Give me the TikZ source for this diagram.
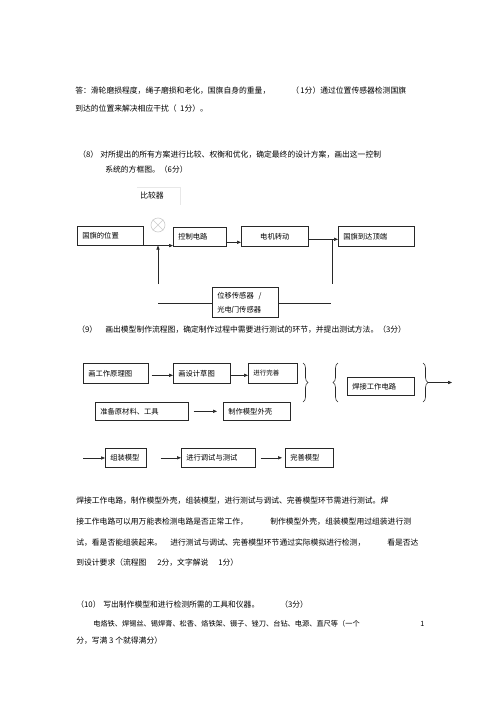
\documentclass[tikz,border=0pt]{standalone}
\usepackage{fontspec}
\setmainfont{Noto Sans CJK SC}
\usetikzlibrary{arrows.meta,decorations.pathreplacing}
\definecolor{ink}{RGB}{40,40,40}
\definecolor{faint}{RGB}{205,205,205}
\definecolor{ghost}{RGB}{232,232,232}
\newcommand{\txtfont}{\fontsize{7.8}{9}\selectfont}
\newcommand{\flowbox}[6]{\node[blk, text width=#4, minimum height=#5] (#1) at (#2,#3) {#6};}
\newcommand{\textline}[4]{\node[txt] (#1) at (#2,#3) {#4};}
\tikzset{
  blk/.style={draw=ink, line width=.6pt, anchor=north west, inner xsep=5pt, inner ysep=0pt, align=left, font=\fontsize{7.3}{10}\selectfont},
  txt/.style={anchor=west, inner sep=0pt, font=\txtfont},
  brc/.style={decorate, decoration={brace, amplitude=5pt}, draw=ink, line width=.6pt},
  >={Triangle[length=4pt,width=3.2pt]}
}

\begin{document}
\begin{tikzpicture}[x=1pt, y=-1pt, line width=.6pt, draw=ink]
\fill[white] (0,0) rectangle (500,707);
\useasboundingbox (0,0) rectangle (500,707);
\textline{ans1}{75}{91}{答：滑轮磨损程度，绳子磨损和老化，国旗自身的重量，}
\textline{ans1b}{291}{91}{（\,1分）通过位置传感器检测国旗}
\textline{ans2}{75}{109}{到达的位置来解决相应干扰（\ \ 1分）。}
\textline{q8}{78}{155}{（8）}
\textline{q8t}{100}{155}{对所提出的所有方案进行比较、权衡和优化，确定最终的设计方案，画出这一控制}
\textline{q8b}{105}{170}{系统的方框图。（6分）}
% block diagram
\textline{cmplbl}{140}{196}{比较器}
\draw[ghost] (137,187) -- (180,187) -- (180,205);
\node[circle, draw=faint, minimum size=14pt, inner sep=0pt] (cmp) at (158,225) {};
\draw[faint] (cmp.north west) -- (cmp.south east) (cmp.north east) -- (cmp.south west);
\flowbox{flag}{77}{226}{56pt}{19pt}{国旗的位置}
\flowbox{ctrl}{173}{227}{43pt}{19pt}{控制电路}
\node[blk, align=center, text width=57pt, minimum height=20pt] (motor) at (241,226) {电机转动};
\flowbox{top}{338}{226}{66pt}{20pt}{国旗到达顶端}
\node[blk, text width=56pt, minimum height=30pt, font=\fontsize{7.3}{14}\selectfont] (sensor) at (212,287) {位移传感器\ \ /\\光电门传感器};
\coordinate (tap) at (332,239);
\coordinate (fbR) at (332,284);
\coordinate (fbL) at (158,284);
\coordinate (hl) at (158,303);
\coordinate (hr) at (331,303);
\draw[->] (flag.south east) -- (flag.south east -| ctrl.west);
\draw[->] ([yshift=-5.5pt]ctrl.east) -- ([yshift=-5.5pt]ctrl.east -| motor.west);
\draw[->] ([yshift=-3pt]motor.east) -- ([yshift=-3pt]motor.east -| top.west);
\draw (tap) -- (fbR);
\draw[->] (fbL) -- (fbL |- flag.south);
\draw (hl) -- (hl -| sensor.west) (hr -| sensor.east) -- (hr);
\textline{q9}{77}{330}{（9）}
\textline{q9t}{105}{330}{画出模型制作流程图，确定制作过程中需要进行测试的环节，并提出测试方法。（3分）}
% flow chart
\flowbox{f1}{83}{363}{55pt}{20pt}{画工作原理图}
\flowbox{f2}{173}{363}{47pt}{20pt}{画设计草图}
\node[blk, text width=39pt, minimum height=20pt, font=\fontsize{6.5}{8}\selectfont] (f3) at (248,363) {进行完善};
\flowbox{f4}{347}{377}{57pt}{18pt}{焊接工作电路}
\flowbox{f5}{95}{402}{83pt}{18pt}{准备原材料、工具}
\flowbox{f6}{223}{402}{57pt}{18pt}{制作模型外壳}
\flowbox{g1}{105}{448}{31pt}{19pt}{组装模型}
\flowbox{g2}{181}{448}{64pt}{19pt}{进行调试与测试}
\flowbox{g3}{285}{448}{38pt}{19pt}{完善模型}
\draw[->] ([xshift=3pt,yshift=-2pt]f1.east) -- ([yshift=-2pt]f2.west);
\draw[->] ([yshift=-2pt]f2.east) -- ([yshift=-2pt]f3.west);
\draw[brc] (303,363) -- (303,402);
\draw[brc] (338,402) -- (338,363);
\draw[brc] (423,363) -- (423,402);
\coordinate (bout) at (428,382.5);
\coordinate (bend) at (452,382.5);
\draw[->] (bout) -- (bend);
\draw[->] ([xshift=5pt]f5.east) -- ([xshift=-6pt]f6.west);
\coordinate (gin) at (83,458);
\draw[->] (gin) -- (gin -| g1.west);
\draw[->] ([xshift=14pt]g1.east) -- (g2.west);
\draw[->] ([xshift=5pt]g2.east) -- ([xshift=-3pt]g3.west);
\textline{p1}{76}{501}{焊接工作电路，制作模型外壳，组装模型，进行测试与调试、完善模型环节需进行测试。焊}
\textline{p2a}{76}{522}{接工作电路可以用万能表检测电路是否正常工作，}
\textline{p2b}{270}{522}{制作模型外壳，}
\textline{p2c}{325}{522}{组装模型用过组装进行测}
\textline{p3a}{76}{543}{试，看是否能组装起来。}
\textline{p3b}{170}{543}{进行测试与调试、完善模型环节通过实际模拟进行检测，}
\textline{p3c}{387}{543}{看是否达}
\textline{p4a}{76}{563}{到设计要求（流程图}
\textline{p4b}{157}{563}{2分，文字解说}
\textline{p4c}{218}{563}{1分）}
\textline{q10}{76}{605}{（10）}
\textline{q10t}{103}{605}{写出制作模型和进行检测所需的工具和仪器。}
\textline{q10s}{280}{605}{（3分）}
\node[txt, font=\fontsize{7.2}{9}\selectfont] (tools) at (93,624) {电烙铁、焊锡丝、锡焊膏、松香、烙铁架、镊子、锉刀、台钻、电源、直尺等（一个};
\node[txt, font=\fontsize{7.2}{9}\selectfont] (one) at (420,624) {1};
\textline{tools2}{76}{641}{分，写满 3 个就得满分）}
\end{tikzpicture}
\end{document}
